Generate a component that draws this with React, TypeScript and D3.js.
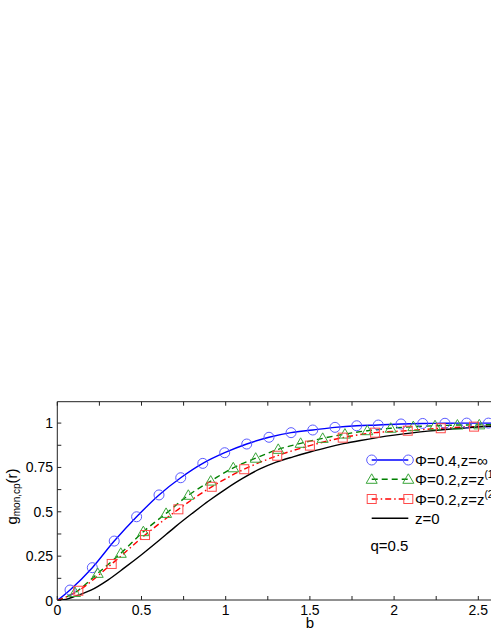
import React from "react";
import * as d3 from "d3";

// marker positions (b, g)
const blueB = [0.0755, 0.208, 0.338, 0.471, 0.604, 0.733, 0.864, 0.994, 1.125, 1.257, 1.388, 1.517, 1.649, 1.778, 1.906, 2.041, 2.17, 2.302, 2.431, 2.56];
const blueG = [0.059, 0.185, 0.335, 0.472, 0.595, 0.692, 0.773, 0.833, 0.882, 0.92, 0.946, 0.961, 0.976, 0.985, 0.989, 0.995, 0.998, 0.999, 1.0, 1.0];

const greenB = [0.105, 0.24, 0.377, 0.511, 0.646, 0.778, 0.911, 1.045, 1.178, 1.312, 1.445, 1.576, 1.708, 1.841, 1.98, 2.114, 2.243, 2.376, 2.506];
const greenG = [0.045, 0.153, 0.266, 0.388, 0.491, 0.593, 0.673, 0.748, 0.802, 0.852, 0.886, 0.914, 0.938, 0.957, 0.971, 0.98, 0.985, 0.989, 0.99];

const redB = [0.125, 0.323, 0.521, 0.719, 0.917, 1.11, 1.306, 1.5, 1.695, 1.887, 2.081, 2.277, 2.475];
const redG = [0.055, 0.206, 0.369, 0.514, 0.641, 0.74, 0.816, 0.873, 0.918, 0.946, 0.957, 0.971, 0.98];

// z=0 curve, no markers
const blackB = [0, 0.05, 0.1, 0.2, 0.3, 0.4, 0.5, 0.6, 0.7, 0.8, 0.9, 1.0, 1.1, 1.2, 1.3, 1.4, 1.5, 1.6, 1.7, 1.8, 1.9, 2.0, 2.2, 2.4, 2.6, 2.8, 3.0];
const blackG = [0, 0.006, 0.022, 0.058, 0.115, 0.185, 0.258, 0.335, 0.415, 0.49, 0.562, 0.628, 0.688, 0.74, 0.78, 0.81, 0.837, 0.862, 0.884, 0.902, 0.918, 0.932, 0.955, 0.971, 0.983, 0.99, 0.995];

// tail of the marked curves beyond the last visible marker
const tailB = 3.0;
const blueTail = 1.0;
const greenTail = 0.996;
const redTail = 0.993;

const xTicks = [0, 0.25, 0.5, 0.75, 1, 1.25, 1.5, 1.75, 2, 2.25, 2.5, 2.75, 3];
const xTickLabels = ["0", "", "0.5", "", "1", "", "1.5", "", "2", "", "2.5", "", "3"];
const yTicks = [0, 0.125, 0.25, 0.375, 0.5, 0.625, 0.75, 0.875, 1];
const yTickLabels = ["0", "", "0.25", "", "0.5", "", "0.75", "", "1"];

const legendLabels = ["Φ=0.4,z=∞", "Φ=0.2,z=z", "Φ=0.2,z=z", "z=0"];
const legendSup = ["", "(1)", "(2)", ""];

const W = 491;
const H = 635;
const FONT = "'Liberation Sans', Arial, sans-serif";

const x = d3.scaleLinear().domain([0, 3]).range([57.3, 562.5]);
const y = d3.scaleLinear().domain([0, 1.12]).range([600.5, 401.8]);

type Pt = [number, number];
const zip = (bs: number[], gs: number[]): Pt[] => bs.map((b, i) => [b, gs[i]]);

const lineGen = d3
  .line<Pt>()
  .x((d) => x(d[0]))
  .y((d) => y(d[1]))
  .curve(d3.curveCatmullRom.alpha(0.5));

const BLUE = "#0000ff";
const GREEN = "#008000";
const RED = "#ff0000";

const series = [
  { pts: [[0, 0] as Pt, ...zip(blueB, blueG), [tailB, blueTail] as Pt], marks: zip(blueB, blueG), color: BLUE, mcolor: "#5b5bff", dash: "", marker: "circle" },
  { pts: [[0, 0] as Pt, ...zip(greenB, greenG), [tailB, greenTail] as Pt], marks: zip(greenB, greenG), color: GREEN, mcolor: "#3aa53a", dash: "6,4", marker: "triangle" },
  { pts: [[0, 0] as Pt, ...zip(redB, redG), [tailB, redTail] as Pt], marks: zip(redB, redG), color: RED, mcolor: "#ff4a4a", dash: "6,3,1.5,3", marker: "square" },
  { pts: zip(blackB, blackG), marks: [] as Pt[], color: "#000000", mcolor: "#000", dash: "", marker: "none" },
];

function Marker({ kind, cx, cy, color }: { kind: string; cx: number; cy: number; color: string }) {
  if (kind === "circle") return <circle cx={cx} cy={cy} r={5} fill="none" stroke={color} strokeWidth={1} />;
  if (kind === "square") return <rect x={cx - 4.5} y={cy - 4.5} width={9} height={9} fill="none" stroke={color} strokeWidth={1} />;
  if (kind === "triangle")
    return <path d={`M${cx},${cy - 5.5}L${cx + 5.5},${cy + 4}L${cx - 5.5},${cy + 4}Z`} fill="none" stroke={color} strokeWidth={1} />;
  return null;
}

export default function App() {
  const x0 = x(0);
  const yBot = 600;
  const yTop = 401.7;
  const legX1 = 371.7;
  const legX2 = 408.3;
  const legY = [460, 479.3, 499, 518.3];

  return (
    <svg width={W} height={H} style={{ position: "absolute", left: 0, top: 0, background: "#fff" }} fontFamily={FONT}>
      <defs>
        <clipPath id="plot">
          <rect x={x0} y={yTop} width={W - x0} height={yBot - yTop} />
        </clipPath>
      </defs>

      {/* axes box */}
      <line x1={x0} x2={W} y1={yBot} y2={yBot} stroke="#222" strokeWidth={1} />
      <line x1={x0} x2={W} y1={yTop} y2={yTop} stroke="#222" strokeWidth={1} />
      <line x1={x0} x2={x0} y1={yTop} y2={yBot} stroke="#222" strokeWidth={1} />

      {xTicks.map((t, i) => (
        <g key={"xt" + i}>
          <line x1={x(t)} x2={x(t)} y1={yBot} y2={yBot - 4} stroke="#222" />
          <line x1={x(t)} x2={x(t)} y1={yTop} y2={yTop + 4} stroke="#222" />
          {xTickLabels[i] && (
            <text x={x(t)} y={615} textAnchor="middle" fontSize={14}>
              {xTickLabels[i]}
            </text>
          )}
        </g>
      ))}
      {yTicks.map((t, i) => (
        <g key={"yt" + i}>
          <line x1={x0} x2={x0 + 4} y1={y(t)} y2={y(t)} stroke="#222" />
          {yTickLabels[i] && (
            <text x={53} y={y(t) + 5} textAnchor="end" fontSize={14}>
              {yTickLabels[i]}
            </text>
          )}
        </g>
      ))}

      <text x={x(1.5)} y={628} textAnchor="middle" fontSize={15}>
        b
      </text>
      <text transform={`translate(17,496.5) rotate(-90)`} textAnchor="middle" fontSize={15}>
        g<tspan fontSize={10} dy={3}>mon,cp</tspan>
        <tspan dy={-3}>(r)</tspan>
      </text>

      <g clipPath="url(#plot)">
        {series.map((s, i) => (
          <path key={"l" + i} d={lineGen(s.pts) || ""} fill="none" stroke={s.color} strokeWidth={1.4} strokeDasharray={s.dash} />
        ))}
        {series.map((s, i) =>
          s.marks.map((p, j) => <Marker key={`m${i}-${j}`} kind={s.marker} cx={x(p[0])} cy={y(p[1])} color={s.mcolor} />)
        )}
      </g>

      {/* legend */}
      {series.map((s, i) => (
        <g key={"lg" + i}>
          <line x1={legX1} x2={legX2} y1={legY[i]} y2={legY[i]} stroke={s.color} strokeWidth={1.4} strokeDasharray={s.dash} />
          <Marker kind={s.marker} cx={legX1} cy={legY[i]} color={s.mcolor} />
          <Marker kind={s.marker} cx={legX2} cy={legY[i]} color={s.mcolor} />
          <text x={415} y={legY[i] + 5.5} fontSize={15}>
            {legendLabels[i]}
            {legendSup[i] && (
              <tspan fontSize={10} dy={-7}>
                {legendSup[i]}
              </tspan>
            )}
          </text>
        </g>
      ))}

      <text x={370.5} y={551} fontSize={15}>
        q=0.5
      </text>
    </svg>
  );
}
